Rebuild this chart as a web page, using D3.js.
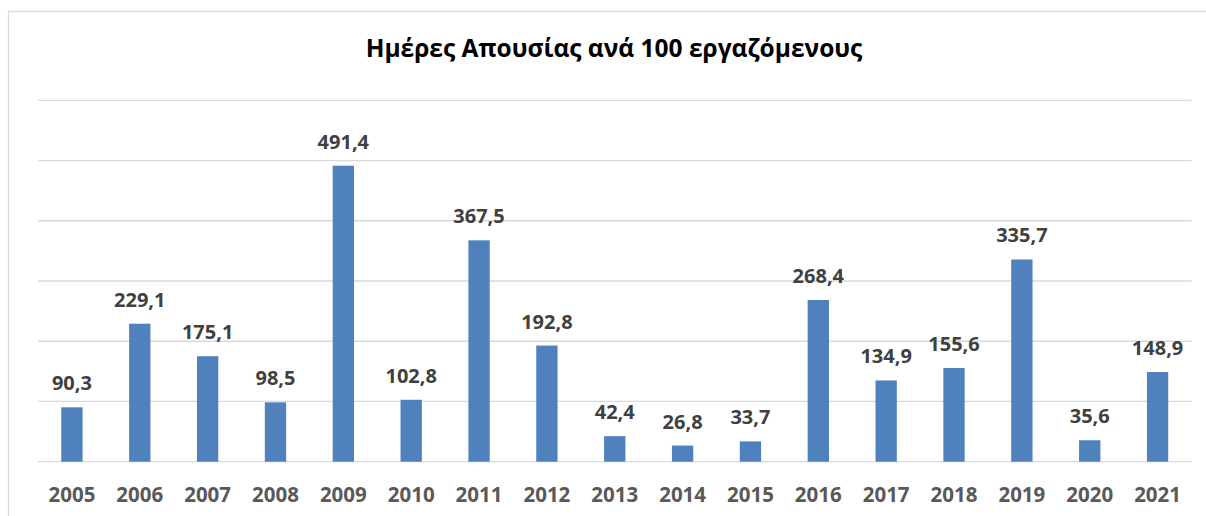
<!DOCTYPE html>
<html>
<head>
<meta charset="utf-8">
<script src="https://cdn.jsdelivr.net/npm/d3@7"></script>
<style>
  html, body { margin: 0; padding: 0; background: #fff; }
  svg { display: block; }
</style>
</head>
<body>
<svg id="chart" width="1206" height="516"></svg>
<script>
const titleText = "Ημέρες Απουσίας ανά 100 εργαζόμενους";
const years = ["2005","2006","2007","2008","2009","2010","2011","2012","2013","2014","2015","2016","2017","2018","2019","2020","2021"];
const values = [90.3, 229.1, 175.1, 98.5, 491.4, 102.8, 367.5, 192.8, 42.4, 26.8, 33.7, 268.4, 134.9, 155.6, 335.7, 35.6, 148.9];
const gridTicks = [0, 100, 200, 300, 400, 500, 600];

const svg = d3.select("#chart");
const font = "'Open Sans', 'Noto Sans', sans-serif";

// outer frame (chart area border)
svg.append("rect")
  .attr("x", 8.5).attr("y", 11.5)
  .attr("width", 1300).attr("height", 600)
  .attr("fill", "#fff")
  .attr("stroke", "#D9D9D9").attr("stroke-width", 1.3);

const x0 = 38, x1 = 1191.5;
const x = d3.scaleBand().domain(years).range([x0, x1]).paddingInner(0.686).paddingOuter(0.343);
const y = d3.scaleLinear().domain([0, 600]).range([461.7, 100.3]);

// gridlines
svg.append("g").selectAll("line").data(gridTicks).join("line")
  .attr("x1", x0).attr("x2", x1)
  .attr("y1", d => y(d)).attr("y2", d => y(d))
  .attr("stroke", "#D9D9D9").attr("stroke-width", 1.3);

// bars
svg.append("g").selectAll("rect").data(values).join("rect")
  .attr("x", (d, i) => x(years[i]))
  .attr("width", x.bandwidth())
  .attr("y", d => y(d))
  .attr("height", d => y(0) - y(d))
  .attr("fill", "#4F81BD");

// data labels
const fmt = v => v.toFixed(1).replace(".", ",");
svg.append("g").selectAll("text").data(values).join("text")
  .attr("x", (d, i) => x(years[i]) + x.bandwidth() / 2)
  .attr("y", d => y(d) - 17)
  .attr("text-anchor", "middle")
  .attr("font-family", font).attr("font-weight", 700)
  .attr("font-size", 20)
  .attr("fill", "#404040")
  .text(fmt);

// x axis labels
svg.append("g").selectAll("text").data(years).join("text")
  .attr("x", d => x(d) + x.bandwidth() / 2)
  .attr("y", 502)
  .attr("text-anchor", "middle")
  .attr("font-family", font).attr("font-weight", 700)
  .attr("font-size", 20.5)
  .attr("fill", "#595959")
  .text(d => d);

// title
svg.append("text")
  .attr("x", 614).attr("y", 57)
  .attr("text-anchor", "middle")
  .attr("font-family", font).attr("font-weight", 700)
  .attr("font-size", 24.5)
  .attr("fill", "#000")
  .text(titleText);
</script>
</body>
</html>
